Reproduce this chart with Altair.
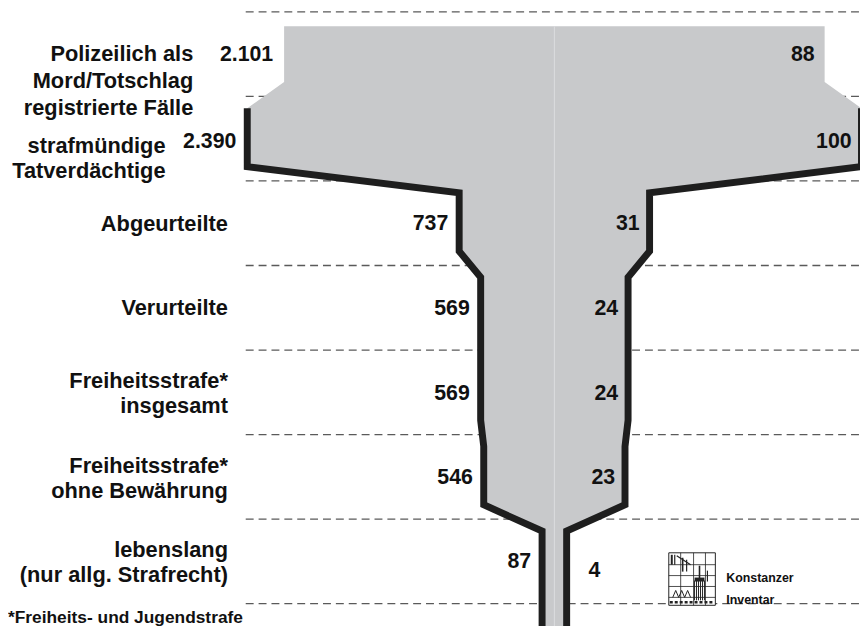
import altair as alt
import pandas as pd

# ---------------- data ----------------
stages = [
    "Polizeilich als\nMord/Totschlag\nregistrierte Fälle",
    "strafmündige\nTatverdächtige",
    "Abgeurteilte",
    "Verurteilte",
    "Freiheitsstrafe*\ninsgesamt",
    "Freiheitsstrafe*\nohne Bewährung",
    "lebenslang\n(nur allg. Strafrecht)",
]
counts = [2101, 2390, 737, 569, 569, 546, 87]
percent = [88, 100, 31, 24, 24, 23, 4]
footnote = "*Freiheits- und Jugendstrafe"
logo_text = ["Konstanzer", "Inventar"]

# ---------------- layout / style ----------------
W, H = 860, 621
CENTER = 551.5      # px of funnel axis
PX_PCT = 3.1        # px per percent (half width)
ROW = 85.34         # px per row band
TOP = 1.0           # px of first band boundary
SEG_TOP, SEG_BOT, FIRST_TOP, LAST_BOT = 0.14, 0.83, 0.17, 7.6
LABEL_RIGHT = [187, 159, 222, 222, 222, 222, 222]
LABEL_DY = [0.50, 0.585, 0.51, 0.50, 0.365, 0.375, 0.365]   # first text line
LABEL_LH = [27, 25, 25, 25, 25, 25, 25]
VAL_DY = [0.51, 0.54, 0.51, 0.51, 0.52, 0.51, 0.51]
GREY = "#c8c9cb"
DARK = "#1e1e1e"
FONT = "Liberation Sans, Arial, Helvetica, sans-serif"

xs = alt.Scale(domain=[-CENTER / PX_PCT, (W - CENTER) / PX_PCT], nice=False, zero=False)
ys = alt.Scale(domain=[-TOP / ROW, (H - TOP) / ROW], nice=False, zero=False, reverse=True)


def X(f):
    return alt.X(f, scale=xs, axis=None)


def Y(f):
    return alt.Y(f, scale=ys, axis=None)


def ref_x(px):
    return (px - 8 - CENTER) / PX_PCT


def ref_y(py):
    return (py - 8 - TOP) / ROW


def fmt_de(n):
    return f"{n:,}".replace(",", ".")


layers = []

# dashed separators
grid_df = pd.DataFrame({"r": list(range(len(stages) + 1)), "x0": -(max(percent) + 0.5)})
layers.append(
    alt.Chart(grid_df)
    .mark_rule(color="#5a5a5a", strokeWidth=1.3, strokeDash=[8, 5])
    .encode(y=Y("r:Q"), x=X("x0:Q"), x2=alt.value(W))
)

# funnel fill
pts = []
for i, p in enumerate(percent):
    top = i + (FIRST_TOP if i == 0 else SEG_TOP)
    bot = LAST_BOT if i == len(percent) - 1 else i + SEG_BOT
    pts += [(top, p), (bot, p)]
fill_df = pd.DataFrame({"y": [a for a, _ in pts], "lo": [-b for _, b in pts], "hi": [b for _, b in pts]})
layers.append(
    alt.Chart(fill_df)
    .mark_area(orient="horizontal", color=GREY, clip=True)
    .encode(y=Y("y:Q"), x=X("lo:Q"), x2="hi:Q")
)

# faint centre seam
seam_df = pd.DataFrame({"x": [0], "y": [FIRST_TOP], "y2": [LAST_BOT]})
layers.append(
    alt.Chart(seam_df)
    .mark_rule(color="#dcdde0", strokeWidth=1, clip=True)
    .encode(x=X("x:Q"), y=Y("y:Q"), y2="y2:Q")
)

# thick outline (from 2nd stage on)
out_rows = []
for side in (-1, 1):
    for k, (yy, p) in enumerate(pts[2:]):
        out_rows.append({"side": side, "k": k, "y": yy, "x": side * p})
layers.append(
    alt.Chart(pd.DataFrame(out_rows))
    .mark_line(color=DARK, strokeWidth=7, strokeJoin="miter", strokeCap="butt", clip=True)
    .encode(x=X("x:Q"), y=Y("y:Q"), detail="side:N", order="k:Q")
)

# stage labels
for i, s in enumerate(stages):
    df = pd.DataFrame({"t": [s], "y": [i + LABEL_DY[i]]})
    layers.append(
        alt.Chart(df)
        .mark_text(align="right", baseline="middle", font=FONT, fontWeight="bold",
                   fontSize=22, lineBreak="\n", lineHeight=LABEL_LH[i], color="#111")
        .encode(x=alt.value(LABEL_RIGHT[i]), y=Y("y:Q"), text="t:N")
    )

# absolute numbers (left)
left_df = pd.DataFrame({
    "y": [i + VAL_DY[i] for i in range(len(counts))],
    "x": [-p for p in percent],
    "t": [fmt_de(c) for c in counts],
})
layers.append(
    alt.Chart(left_df)
    .mark_text(align="right", baseline="middle", dx=-11, font=FONT, fontWeight="bold",
               fontSize=21.5, color="#111")
    .encode(x=X("x:Q"), y=Y("y:Q"), text="t:N")
)

# percentages (right)
right_df = pd.DataFrame({
    "y": [i + VAL_DY[i] for i in range(len(percent))],
    "x": percent,
    "t": [str(p) for p in percent],
})
layers.append(
    alt.Chart(right_df)
    .transform_filter("datum.x >= 10")
    .mark_text(align="right", baseline="middle", dx=-10, font=FONT, fontWeight="bold",
               fontSize=21.5, color="#111")
    .encode(x=X("x:Q"), y=Y("y:Q"), text="t:N")
)
layers.append(
    alt.Chart(right_df)
    .transform_filter("datum.x < 10")
    .mark_text(align="left", baseline="middle", dx=22, dy=9, font=FONT, fontWeight="bold",
               fontSize=21.5, color="#111")
    .encode(x=X("x:Q"), y=Y("y:Q"), text="t:N")
)

# footnote
layers.append(
    alt.Chart(pd.DataFrame({"t": [footnote], "y": [ref_y(621.3)]}))
    .mark_text(align="left", baseline="middle", font=FONT, fontWeight="bold", fontSize=17.5, color="#111")
    .encode(x=alt.value(0), y=Y("y:Q"), text="t:N")
)

# ---------------- logo (decoration) ----------------
box = pd.DataFrame({"x": [ref_x(675)], "x2": [ref_x(722)], "y": [ref_y(555)], "y2": [ref_y(608)]})
layers.append(
    alt.Chart(box)
    .mark_rect(fill="white", stroke="#222", strokeWidth=1)
    .encode(x=X("x:Q"), x2="x2:Q", y=Y("y:Q"), y2="y2:Q")
)
segs = []
for vx in (687, 700, 712):
    segs.append((vx, 555, vx, 608, 0.8))
for hy in (567, 578, 589, 600):
    segs.append((675, hy, 722, hy, 0.8))
for tx in (701, 703, 705, 707, 709, 711):
    segs.append((tx, 583, tx, 603, 1.0))
segs.append((706, 568, 706, 583, 1.6))
segs += [(678, 557, 678, 567, 2), (681, 557, 681, 567, 1.2), (683, 558, 697, 567, 1.2),
         (689, 560, 689, 574, 1.6), (693, 562, 693, 574, 1.2), (714, 573, 714, 584, 1.2)]
zig = [(679, 600), (682, 593), (685, 600), (688, 593), (691, 600), (694, 593), (697, 600)]
for a, b in zip(zig[:-1], zig[1:]):
    segs.append((a[0], a[1], b[0], b[1], 1.0))
seg_df = pd.DataFrame({
    "x": [ref_x(s[0]) for s in segs], "y": [ref_y(s[1]) for s in segs],
    "x2": [ref_x(s[2]) for s in segs], "y2": [ref_y(s[3]) for s in segs],
    "w": [s[4] for s in segs],
})
layers.append(
    alt.Chart(seg_df)
    .mark_rule(color="#222")
    .encode(x=X("x:Q"), y=Y("y:Q"), x2="x2:Q", y2="y2:Q",
            strokeWidth=alt.StrokeWidth("w:Q", scale=None, legend=None))
)
roof = pd.DataFrame({"x": [ref_x(701)], "x2": [ref_x(711)], "y": [ref_y(580)], "y2": [ref_y(584)]})
layers.append(
    alt.Chart(roof).mark_rect(fill="#222").encode(x=X("x:Q"), x2="x2:Q", y=Y("y:Q"), y2="y2:Q")
)
band = pd.DataFrame({"x": [ref_x(676)], "x2": [ref_x(721)], "y": [ref_y(605)]})
layers.append(
    alt.Chart(band)
    .mark_rule(color="#222", strokeWidth=2.5, strokeDash=[3, 2])
    .encode(x=X("x:Q"), x2="x2:Q", y=Y("y:Q"))
)
logo_df = pd.DataFrame({"t": logo_text, "y": [ref_y(580.8), ref_y(602.5)]})
layers.append(
    alt.Chart(logo_df)
    .mark_text(align="left", baseline="middle", font=FONT, fontWeight="bold", fontSize=12.5, color="#111")
    .encode(x=alt.value(725), y=Y("y:Q"), text="t:N")
)

chart = (
    alt.layer(*layers)
    .properties(width=W, height=H, padding=0, autosize=alt.AutoSizeParams(type="none"),
                background="white")
    .configure_view(stroke=None)
)

chart.save("out.html", embed_options={"renderer": "svg", "actions": False})
